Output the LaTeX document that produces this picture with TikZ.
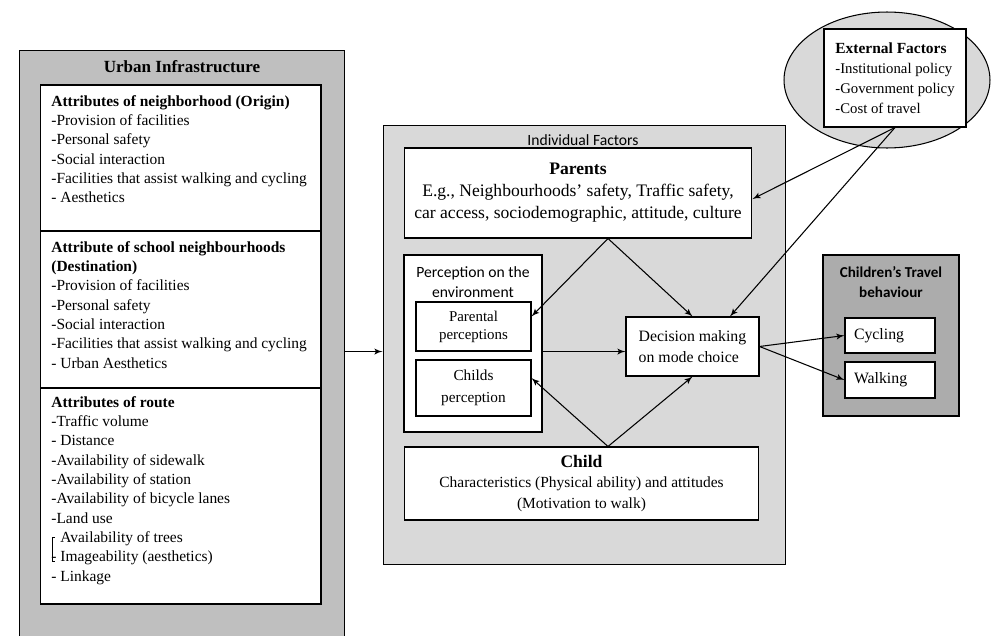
\documentclass[tikz,border=0pt]{standalone}
\usepackage{fontspec}
\setmainfont{Liberation Serif}
\newfontfamily\calib{Carlito}
\usetikzlibrary{arrows, shapes, positioning}

\begin{document}
\begin{tikzpicture}[x=0.02cm, y=-0.02cm]
 \tikzstyle{panel}=[rectangle, draw, line width=0.6pt, inner sep=0pt]
 \tikzstyle{wbox}=[rectangle, draw, fill=white, line width=0.6pt, inner sep=0pt, align=center]
 \tikzstyle{txt}=[inner sep=0pt, align=left, anchor=north west, font=\fontsize{8.8}{11}\selectfont]
 \tikzstyle{line} = [draw, -latex', line width=0.6pt]

 \useasboundingbox (0,0) rectangle (992,636);
 \clip (0,0) rectangle (992,636);

 \begin{scope}
  \node[panel, fill=gray!50, minimum width=6.52cm, minimum height=11.9cm] (uinfra) at (182,348) {};
  \node[font=\bfseries\fontsize{9.7}{11}\selectfont] (uinfratitle) at (182,67) {Urban Infrastructure};

  \node[wbox, minimum width=5.62cm, minimum height=2.92cm] (origin) at (180.5,158) {};
  \node[txt] (origintxt) at (51,95) {\textbf{Attributes of neighborhood (Origin)}\\-Provision of facilities\\-Personal safety\\-Social interaction\\-Facilities that assist walking and cycling\\- Aesthetics};

  \node[wbox, minimum width=5.62cm, minimum height=3.14cm] (destin) at (180.5,309.5) {};
  \node[txt] (destintxt) at (51,241) {\textbf{Attribute of school neighbourhoods}\\\textbf{(Destination)}\\-Provision of facilities\\-Personal safety\\-Social interaction\\-Facilities that assist walking and cycling\\- Urban Aesthetics};

  \node[wbox, minimum width=5.62cm, minimum height=4.32cm] (route) at (180.5,496) {};
  \node[txt] (routetxt) at (51,396) {\textbf{Attributes of route}\\-Traffic volume\\- Distance\\-Availability of sidewalk\\-Availability of station\\-Availability of bicycle lanes\\-Land use\\\hphantom{-} Availability of trees\\- Imageability (aesthetics)\\- Linkage};
  \draw[line width=0.4pt] (55,537) -- (52,537) -- (52,561) -- (55,561);
 \end{scope}

 \begin{scope}
  \node[panel, fill=gray!30, minimum width=8.06cm, minimum height=8.8cm] (indiv) at (584.5,345) {};
  \node[font=\calib\fontsize{8.9}{11}\selectfont] (indivtitle) at (583,140) {Individual Factors};

  \node[wbox, minimum width=6.96cm, minimum height=1.8cm, font=\fontsize{10}{12.6}\selectfont] (parents) at (578,193) {\textbf{Parents}\\E.g., Neighbourhoods' safety, Traffic safety,\\car access, sociodemographic, attitude, culture};

  \node[wbox, minimum width=2.76cm, minimum height=3.54cm] (percep) at (473,343.5) {};
  \node[font=\calib\fontsize{8.9}{11.3}\selectfont, align=center] (perceptitle) at (473,282) {Perception on the\\environment};
  \node[wbox, minimum width=2.3cm, minimum height=0.98cm, font=\fontsize{8.5}{10.3}\selectfont] (parental) at (473.5,326.5) {Parental\\perceptions};
  \node[wbox, minimum width=2.3cm, minimum height=1.12cm, font=\fontsize{8.7}{12.3}\selectfont] (childs) at (473.5,388) {Childs\\perception};

  \node[wbox, minimum width=2.66cm, minimum height=1.18cm, align=left, font=\fontsize{9}{11.8}\selectfont] (decision) at (692.5,346.5) {Decision making\\on mode choice};

  \node[wbox, minimum width=7.1cm, minimum height=1.46cm, font=\fontsize{8.8}{11.5}\selectfont] (child) at (581.5,483.5) {{\fontsize{10}{11.5}\selectfont\textbf{Child}}\\Characteristics (Physical ability) and attitudes\\(Motivation to walk)};
 \end{scope}

 \begin{scope}
  \node[ellipse, draw, fill=gray!30, line width=0.6pt, minimum width=4.12cm, minimum height=2.72cm] (extell) at (887,80) {};
  \node[wbox, minimum width=2.84cm, minimum height=1.96cm, align=left, font=\fontsize{8.4}{11.3}\selectfont] (external) at (895,78) {{\fontsize{8.8}{11.3}\selectfont\textbf{External Factors}}\\-Institutional policy\\-Government policy\\-Cost of travel};

  \node[panel, fill=gray!65, minimum width=2.72cm, minimum height=3.22cm] (travel) at (891,335.5) {};
  \node[font=\calib\bfseries\fontsize{8.6}{11.5}\selectfont, align=center] (traveltitle) at (891,282) {Children’s Travel\\behaviour};
  \node[wbox, minimum width=1.8cm, minimum height=0.7cm, text width=1.44cm, align=left, font=\fontsize{9}{11}\selectfont] (cycling) at (890,335.5) {Cycling};
  \node[wbox, minimum width=1.8cm, minimum height=0.72cm, text width=1.44cm, align=left, font=\fontsize{9}{11}\selectfont] (walking) at (890,380) {Walking};
 \end{scope}

 \path [line] (uinfra.east |- parental.south) -- (indiv.west |- parental.south);
 \path [line] ([xshift=0.6cm]parents.south) -- ([yshift=-0.3cm]parental.north east);
 \path [line] ([xshift=0.6cm]parents.south) -- (decision.north);
 \path [line] (percep.east |- parental.south) -- (decision.west |- parental.south);
 \path [line] ([xshift=0.53cm]child.north) -- ([yshift=0.2cm]childs.east);
 \path [line] ([xshift=0.53cm]child.north) -- (decision.south);
 \path [line] (external.south) -- ([yshift=-0.12cm]parents.east);
 \path [line] (external.south) -- ([xshift=0.75cm]decision.north);
 \path [line] (decision.east) -- (cycling.west);
 \path [line] (decision.east) -- (walking.west);

\end{tikzpicture}
\end{document}
